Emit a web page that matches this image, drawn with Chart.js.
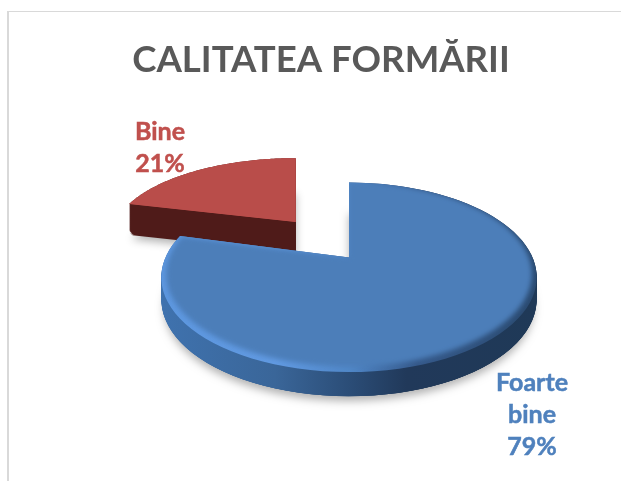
<!DOCTYPE html>
<html>
<head>
<meta charset="utf-8">
<title>Calitatea formării</title>
<script src="https://cdn.jsdelivr.net/npm/chart.js@4/dist/chart.umd.min.js"></script>
<style>
  html, body { margin: 0; padding: 0; background: #fff; overflow: hidden; }
  #wrap { position: relative; width: 622px; height: 481px; }
  #frame { position: absolute; left: 7px; top: 11px; right: 1px; bottom: 0;
           border-left: 2px solid #d9d9d9; border-top: 1px solid #d9d9d9; }
  canvas { position: absolute; left: 0; top: 0; }
</style>
</head>
<body>
<div id="wrap">
  <div id="frame"></div>
  <canvas id="chart" width="622" height="481"></canvas>
</div>
<script>
var title = 'CALITATEA FORMĂRII';
var categories = ['Foarte bine', 'Bine'];
var values = [79, 21];
var faceColors = ['#4c7eb9', '#b94d4a'];
var labelColors = ['#4f81bd', '#c0504d'];

// how far each slice is pulled out, in units of the pie radius
var explodeU = [0, -0.29];
var explodeV = [0, 0.425];
var stretchU = [1, 1.07];
var sliceDepth = [27, 31];

// fake 3D view of the flat pie
var view = { shiftX: 28, scaleX: 184 / 176, scaleY: 90.8 / 176, persp: 0.21 };

function project(arc, i, r, a) {
  var R = arc.outerRadius;
  var ru = r * Math.cos(a) * stretchU[i], v = -r * Math.sin(a) + explodeV[i];
  var w = 1 + view.persp * v;
  return {
    x: arc.x + view.shiftX + R * view.scaleX * (explodeU[i] + ru / w),
    y: arc.y - R * view.scaleY * v / w
  };
}

function slicePath(ctx, arc, i, dy, radiusAt) {
  var steps = 90, p = project(arc, i, 0, 0);
  ctx.beginPath();
  ctx.moveTo(p.x, p.y + dy);
  for (var s = 0; s <= steps; s++) {
    var a = arc.startAngle + (arc.endAngle - arc.startAngle) * s / steps;
    p = project(arc, i, radiusAt(a), a);
    ctx.lineTo(p.x, p.y + dy);
  }
  ctx.closePath();
}

function gradient(ctx, stops) {
  var g = ctx.createLinearGradient(162, 0, 538, 0);
  stops.forEach(function (s) { g.addColorStop(s[0], s[1]); });
  return g;
}

var sideStops = [
  [[0, '#3f72ae'], [0.3, '#3a6699'], [0.5, '#2b4d77'], [0.65, '#21395a'], [1, '#1f3957']],
  [[0, '#4f1b19'], [1, '#4f1b19']]
];
var rimStops = [
  [[0, '#5d97df'], [0.3, '#619ae2'], [0.5, '#5087c8'], [0.68, '#35598a'], [1, '#2a4a70']],
  [[0, '#b94d4a'], [1, '#b94d4a']]
];
var rimInset = [0.04, 0];

function drawSlice(ctx, arc, i) {
  var full = function () { return 1; };
  var depth = sliceDepth[i];
  // soft shadow under the slice
  ctx.save();
  ctx.shadowColor = 'rgba(0,0,0,0.3)';
  ctx.shadowBlur = 9;
  ctx.shadowOffsetY = 5;
  ctx.fillStyle = '#888';
  slicePath(ctx, arc, i, depth - 1, function () { return 0.985; });
  ctx.fill();
  ctx.restore();

  // extruded wall, stacked from the bottom up, edge rounded off at the foot
  ctx.fillStyle = gradient(ctx, sideStops[i]);
  for (var d = depth; d >= 0; d--) {
    var foot = Math.max(0, d - depth + 5) / 5;
    var r = 1 - 0.02 * foot * foot;
    slicePath(ctx, arc, i, d, function () { return r; });
    ctx.fill();
  }

  // bevel and top face
  ctx.fillStyle = gradient(ctx, rimStops[i]);
  slicePath(ctx, arc, i, 0, full);
  ctx.fill();

  ctx.save();
  slicePath(ctx, arc, i, 0, full);
  ctx.clip();
  if (rimInset[i] > 0) ctx.filter = 'blur(2.5px)';
  ctx.fillStyle = faceColors[i];
  slicePath(ctx, arc, i, 0, function (a) {
    return 1 - rimInset[i] * Math.min(1, Math.max(0, 0.6 * Math.sin(a) + 0.5));
  });
  ctx.fill();
  ctx.restore();
}

var pie3d = {
  id: 'pie3d',
  beforeDatasetDraw: function (chart) {
    var ctx = chart.ctx, arcs = chart.getDatasetMeta(0).data;
    ctx.save();
    drawSlice(ctx, arcs[1], 1);
    drawSlice(ctx, arcs[0], 0);
    ctx.restore();
    return false;
  }
};

// data labels: category words on separate lines, percent last
var labelX = [532, 160];
var labelY = [383, 132];
var labelLine = 32;

var sliceLabels = {
  id: 'sliceLabels',
  afterDraw: function (chart) {
    var ctx = chart.ctx;
    ctx.save();
    ctx.font = 'bold 25px Lato, "Open Sans", sans-serif';
    ctx.textAlign = 'center';
    ctx.textBaseline = 'middle';
    ctx.lineWidth = 0.5;
    categories.forEach(function (c, i) {
      ctx.fillStyle = labelColors[i];
      ctx.strokeStyle = labelColors[i];
      c.split(' ').concat(values[i] + '%').forEach(function (t, n) {
        ctx.fillText(t, labelX[i], labelY[i] + n * labelLine);
        ctx.strokeText(t, labelX[i], labelY[i] + n * labelLine);
      });
    });
    ctx.restore();
  }
};

new Chart(document.getElementById('chart'), {
  type: 'pie',
  data: {
    labels: categories,
    datasets: [{ data: values, backgroundColor: faceColors, borderWidth: 0 }]
  },
  options: {
    responsive: false,
    animation: false,
    layout: { padding: { left: 20, right: 0, top: 0, bottom: 48 } },
    plugins: {
      legend: { display: false },
      tooltip: { enabled: false },
      title: {
        display: true, text: title, color: '#595959',
        font: { family: 'Lato, "Open Sans", sans-serif', size: 36.6, weight: 'bold' },
        padding: { top: 38, bottom: 0 }
      }
    }
  },
  plugins: [pie3d, sliceLabels]
});
</script>
</body>
</html>
